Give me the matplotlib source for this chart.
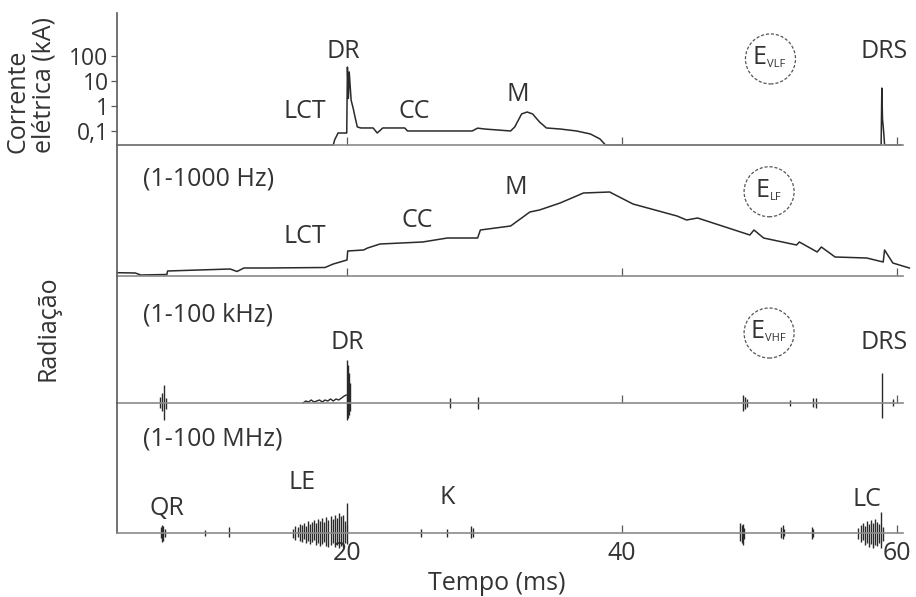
import numpy as np
import matplotlib
matplotlib.use("Agg")
import matplotlib.pyplot as plt
from matplotlib.ticker import NullLocator

plt.rcParams['font.family'] = ['Open Sans', 'DejaVu Sans']

# eixo do tempo (ms)
t_min, t_max = 3.27, 60.44
x_ticks = [20, 40, 60]

# corrente elétrica (kA)
cur_t = [3.3, 19.0, 19.1, 19.35, 19.98, 20.03, 20.1, 20.16, 20.3, 20.45, 20.6, 20.75,
         21.0, 21.9, 22.2, 22.6, 24.2, 24.4, 29.1, 29.5, 30.0, 31.9, 32.2, 32.7, 33.1,
         33.5, 34.0, 34.5, 35.5, 36.7, 37.7, 38.4, 38.8, 58.85, 58.9, 58.95, 59.0,
         59.05, 59.1, 60.3]
cur_kA = [0, 0, 0.044, 0.083, 0.083, 36, 2.0, 23, 1.7, 0.8, 0.33, 0.145,
          0.132, 0.132, 0.083, 0.132, 0.132, 0.1, 0.1, 0.13, 0.12, 0.1, 0.145, 0.48, 0.575,
          0.48, 0.23, 0.132, 0.12, 0.1, 0.076, 0.048, 0, 0, 5.2, 0.3, 0.15,
          0.07, 0, 0]
cur_floor = 0.0275
cur_ticks = [0.1, 1, 10, 100]
cur_ticklabels = ["0,1", "1", "10", "100"]

# radiação 1-1000 Hz (unidades relativas)
lf_t = [3.3, 4.6, 5.0, 6.9, 6.95, 11.5, 12.0, 12.5, 14.2, 18.4, 19.0, 20.0, 20.05,
        21.2, 21.5, 22.4, 25.5, 27.3, 28.2, 29.5, 29.7, 31.9, 33.3, 34.0, 35.5, 37.2,
        39.1, 40.8, 44.0, 44.7, 45.5, 49.3, 49.6, 50.3, 52.7, 52.9, 54.2, 54.5, 55.5,
        57.8, 59.0, 59.1, 59.7, 60.9]
lf_amp = [3.3, 3, 1, 1.5, 5, 7, 4.5, 8, 8, 8.5, 12, 16, 25,
          26, 28, 32, 34, 38, 38, 38, 46, 50, 64, 66, 73, 83,
          84, 72, 60, 56, 58, 41, 46, 38, 31, 34, 24, 29, 19,
          18, 14, 26, 13, 8]

# radiação 1-100 kHz
khz_rip_t = [16.8, 17.0, 17.2, 17.4, 17.6, 17.8, 18.0, 18.2, 18.4, 18.6, 18.8, 19.0,
             19.2, 19.4, 19.6, 19.8, 19.95]
khz_rip_amp = [0, 2, 1, 3, 1, 2, 3, 1, 3, 2, 4, 2, 4, 3, 5, 7, 8]
khz_t = [6.4, 6.55, 6.7, 6.8, 20.0, 20.08, 20.15, 20.22, 27.5, 29.5, 48.8, 48.95,
         49.1, 52.2, 53.9, 54.1, 58.9, 59.7]
khz_lo = [-5, -8, -17, -6, -17, -15, -12, -8, -5, -6, -8, -6, -4, -3, -4, -5, -15, -3]
khz_hi = [6, 10, 18, 5, 43, 38, 30, 20, 5, 6, 8, 6, 4, 3, 5, 5, 30, 4]

# radiação 1-100 MHz
mhz_t = [6.45, 6.55, 6.65, 6.75, 9.7, 11.4,
         16.1, 16.25, 16.4, 16.55, 16.7, 16.85, 17.0, 17.15, 17.3, 17.45, 17.6, 17.75,
         17.9, 18.05, 18.2, 18.35, 18.5, 18.65, 18.8, 18.95, 19.1, 19.25, 19.4, 19.55,
         19.7, 19.85, 20.0,
         25.4, 27.3, 29.0, 29.15,
         48.6, 48.7, 48.8, 48.9, 51.6, 51.7, 51.8, 53.8, 53.9,
         57.2, 57.35, 57.5, 57.65, 57.8, 57.95, 58.1, 58.25, 58.4, 58.55, 58.7, 58.85, 59.0]
mhz_hi = [6, 8, 7, 4, 3, 6,
          4, 7, 6, 9, 8, 10, 7, 12, 9, 11, 13, 10,
          14, 12, 15, 11, 16, 13, 17, 14, 18, 15, 20, 17,
          18, 12, 30,
          4, 4, 7, 5,
          10, 8, 9, 5, 6, 8, 4, 6, 4,
          5, 8, 10, 7, 12, 9, 13, 10, 14, 11, 9, 21, 6]
mhz_lo = [-5, -9, -8, -4, -3, -4,
          -5, -7, -4, -8, -9, -6, -10, -8, -11, -9, -7, -12,
          -10, -13, -11, -9, -13, -14, -12, -10, -14, -12, -15, -13,
          -14, -10, -11,
          -4, -4, -5, -4,
          -8, -10, -12, -6, -5, -6, -3, -6, -4,
          -6, -9, -7, -12, -10, -14, -11, -15, -12, -13, -10, -15, -8]

line_c = '#2a2a2a'
base_c = '#8a8a8a'
axis_c = '#5a5a5a'
text_c = '#333333'
fs = 18

W, H = 916, 597
fig = plt.figure(figsize=(W / 100, H / 100), dpi=100)

left_px, right_px = 117, 903
panels = [(13, 145), (145, 276), (276, 403), (403, 533)]
axes = []
for top, bottom in panels:
    ax = fig.add_axes([left_px / W, 1 - bottom / H, (right_px - left_px) / W, (bottom - top) / H])
    ax.patch.set_alpha(0)
    for s in ['top', 'right']:
        ax.spines[s].set_visible(False)
    ax.spines['left'].set_color(axis_c)
    ax.spines['left'].set_linewidth(1.2)
    ax.spines['bottom'].set_color(base_c)
    ax.spines['bottom'].set_linewidth(1.2)
    ax.set_xlim(t_min, t_max)
    ax.set_xticks(x_ticks)
    ax.tick_params(axis='x', direction='in', length=6, width=0.9, color=axis_c,
                   labelbottom=False)
    ax.set_yticks([])
    axes.append(ax)
ax1, ax2, ax3, ax4 = axes

# painel 1: corrente
ax1.set_yscale('log')
ax1.set_ylim(cur_floor, 0.1 * 10 ** ((131 - 13) / 25))
ax1.plot(cur_t, np.clip(cur_kA, cur_floor, None), color=line_c, lw=1.1, clip_on=False)
ax1.set_yticks(cur_ticks)
ax1.set_yticklabels(cur_ticklabels)
ax1.yaxis.set_minor_locator(NullLocator())
ax1.tick_params(axis='y', direction='out', length=4, width=0.9, color=axis_c,
                labelsize=16.5, labelcolor=text_c, pad=2)

# painel 2: 1-1000 Hz
ax2.set_ylim(0, 131)
ax2.plot(lf_t, lf_amp, color=line_c, lw=1.1, clip_on=False)

# painel 3: 1-100 kHz
ax3.set_ylim(0, 127)
ax3.plot(khz_rip_t, khz_rip_amp, color=line_c, lw=1.0, clip_on=False)
ax3.vlines(khz_t, khz_lo, khz_hi, color=line_c, lw=1.0, clip_on=False)

# painel 4: 1-100 MHz
ax4.set_ylim(0, 130)
ax4.vlines(mhz_t, mhz_lo, mhz_hi, color=line_c, lw=1.0, clip_on=False)
ax4.tick_params(axis='x', labelbottom=True, labelsize=fs, labelcolor=text_c, pad=6)


def label(ax, x, yf, s, **kw):
    ax.text(x, yf, s, transform=ax.get_xaxis_transform(), ha='center', va='center',
            fontsize=fs, color=text_c, **kw)


def circled(ax, x, yf, sub, e_dx):
    tr = ax.get_xaxis_transform()
    ax.scatter([x], [yf], s=1296, transform=tr, facecolors='none', edgecolors='#555555',
               linewidths=0.9, linestyles=(0, (2.5, 1.5)), clip_on=False)
    ax.annotate("E", xy=(x, yf), xycoords=tr, xytext=(e_dx * 0.72, 1),
                textcoords='offset points', ha='center', va='center', fontsize=fs,
                color=text_c)
    ax.annotate(sub, xy=(x, yf), xycoords=tr, xytext=((e_dx + 8) * 0.72, -4),
                textcoords='offset points', ha='left', va='center', fontsize=8,
                color=text_c)


label(ax1, 16.9, 0.25, "LCT")
label(ax1, 19.7, 0.705, "DR")
label(ax1, 24.9, 0.25, "CC")
label(ax1, 32.4, 0.386, "M")
circled(ax1, 50.8, 0.652, "VLF", -11)
label(ax1, 59.1, 0.705, "DRS")

ax2.text(5.16, 0.74, "(1-1000 Hz)", transform=ax2.get_xaxis_transform(), ha='left',
         va='center', fontsize=fs, color=text_c)
label(ax2, 16.9, 0.298, "LCT")
label(ax2, 25.1, 0.427, "CC")
label(ax2, 32.3, 0.679, "M")
circled(ax2, 50.7, 0.643, "LF", -7)

ax3.text(5.16, 0.693, "(1-100 kHz)", transform=ax3.get_xaxis_transform(), ha='left',
         va='center', fontsize=fs, color=text_c)
label(ax3, 20.0, 0.48, "DR")
circled(ax3, 50.7, 0.551, "VHF", -12)
label(ax3, 59.1, 0.48, "DRS")

ax4.text(5.16, 0.723, "(1-100 MHz)", transform=ax4.get_xaxis_transform(), ha='left',
         va='center', fontsize=fs, color=text_c)
label(ax4, 6.9, 0.185, "QR")
label(ax4, 16.7, 0.385, "LE")
label(ax4, 27.3, 0.27, "K")
label(ax4, 57.8, 0.254, "LC")

fig.text(497 / W, 1 - 583 / H, "Tempo (ms)", ha='center', va='center', fontsize=fs,
         color=text_c)
fig.text(31 / W, 1 - 85 / H, "Corrente\nelétrica (kA)", rotation=90, ha='center',
         va='center', fontsize=fs, color=text_c, linespacing=1.05, multialignment='left')
fig.text(48 / W, 1 - 328 / H, "Radiação", rotation=90, ha='center', va='center',
         fontsize=fs, color=text_c)

fig.savefig("out.png", dpi=100)
